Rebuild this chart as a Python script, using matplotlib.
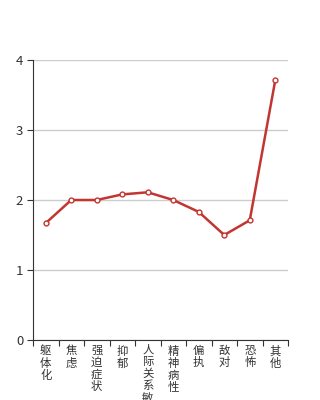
import numpy as np
import matplotlib.pyplot as plt

plt.rcParams['font.family'] = ['Noto Sans CJK SC', 'DejaVu Sans']

# 各因子得分
categories = ['躯体化', '焦虑', '强迫症状', '抑郁', '人际关系敏感', '精神病性', '偏执', '敌对', '恐怖', '其他']
scores = [1.67, 2.0, 2.0, 2.08, 2.11, 2.0, 1.83, 1.5, 1.71, 3.71]
y_ticks = [0, 1, 2, 3, 4]

fig = plt.figure(figsize=(3.2, 4.0), dpi=100)
ax = fig.add_axes([33 / 320, 1 - 340 / 400, 255 / 320, 280 / 400])

x = np.arange(len(categories))
ax.plot(x, scores, color='#c23531', lw=1.8, marker='o', ms=3.5,
        mfc='white', mec='#c23531', mew=1, zorder=3, clip_on=False)

ax.set_xlim(-0.5, len(categories) - 0.5)
ax.set_ylim(0, 4)
ax.set_yticks(y_ticks)
ax.yaxis.grid(True, color='#cccccc', lw=1)
ax.set_axisbelow(True)

# x 轴刻度在类别之间
ax.set_xticks(np.arange(len(categories) + 1) - 0.5)
ax.set_xticklabels([])
ax.set_xticks(x, minor=True)
ax.set_xticklabels(['\n'.join(c) for c in categories], minor=True,
                   fontsize=8.2, color='#333333', linespacing=1.16, va='top')
ax.tick_params(axis='x', which='minor', length=0, pad=4)
ax.tick_params(axis='x', which='major', length=4, color='#333333')
ax.tick_params(axis='y', length=4, color='#333333', labelsize=9.5, labelcolor='#333333', pad=3)

for s in ['top', 'right']:
    ax.spines[s].set_visible(False)
ax.spines['left'].set_color('#333333')
ax.spines['bottom'].set_color('#333333')

fig.savefig('out.png', dpi=100)
